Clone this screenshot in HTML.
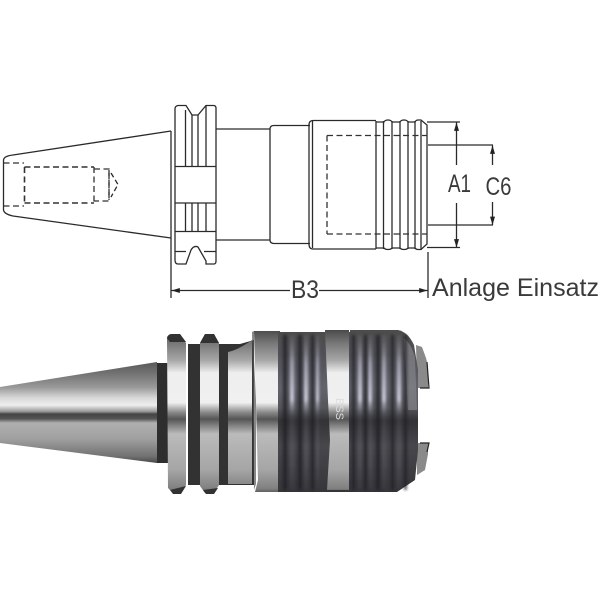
<!DOCTYPE html>
<html><head><meta charset="utf-8">
<style>html,body{margin:0;padding:0;background:#fff}svg{display:block}
text{font-family:"Liberation Sans",sans-serif;fill:#3a3a3a}</style></head>
<body>
<svg width="600" height="600" viewBox="0 0 600 600" xmlns="http://www.w3.org/2000/svg">
<defs>
<filter id="b" x="-5%" y="-5%" width="110%" height="110%"><feGaussianBlur stdDeviation="0.35"/></filter>
<filter id="b2" x="-20%" y="-5%" width="140%" height="110%"><feGaussianBlur stdDeviation="1.4"/></filter>
<linearGradient id="taper" gradientUnits="userSpaceOnUse" x1="0" y1="360" x2="0" y2="465">
<stop offset="0" stop-color="#555"/><stop offset=".12" stop-color="#707070"/><stop offset=".26" stop-color="#999"/><stop offset=".36" stop-color="#d8d8d8"/><stop offset=".43" stop-color="#eee"/><stop offset=".49" stop-color="#999"/><stop offset=".515" stop-color="#444"/><stop offset=".56" stop-color="#555"/><stop offset=".6" stop-color="#b0b0b0"/><stop offset=".75" stop-color="#a0a0a0"/><stop offset=".92" stop-color="#707070"/><stop offset="1" stop-color="#3c3c3c"/>
</linearGradient>
<linearGradient id="metal" gradientUnits="userSpaceOnUse" x1="0" y1="330" x2="0" y2="495">
<stop offset="0" stop-color="#4a4a4a"/><stop offset=".08" stop-color="#777"/><stop offset=".18" stop-color="#a5a5a5"/><stop offset=".26" stop-color="#eee"/><stop offset=".44" stop-color="#f0f0f0"/><stop offset=".5" stop-color="#888"/><stop offset=".54" stop-color="#555"/><stop offset=".6" stop-color="#999"/><stop offset=".63" stop-color="#bbb"/><stop offset=".85" stop-color="#a5a5a5"/><stop offset=".96" stop-color="#808080"/><stop offset="1" stop-color="#444"/>
</linearGradient>
<linearGradient id="thread" gradientUnits="userSpaceOnUse" x1="0" y1="330" x2="0" y2="495">
<stop offset="0" stop-color="#4c4c4c"/><stop offset=".15" stop-color="#505056"/><stop offset=".35" stop-color="#62646c"/><stop offset=".47" stop-color="#55565a"/><stop offset=".55" stop-color="#333336"/><stop offset=".7" stop-color="#47474c"/><stop offset="1" stop-color="#343438"/>
</linearGradient>
<linearGradient id="hl" gradientUnits="userSpaceOnUse" x1="0" y1="330" x2="0" y2="495">
<stop offset="0" stop-color="#888" stop-opacity="0"/><stop offset=".2" stop-color="#bbc" stop-opacity=".7"/><stop offset=".42" stop-color="#dde" stop-opacity=".85"/><stop offset=".52" stop-color="#889" stop-opacity=".1"/><stop offset=".8" stop-color="#778" stop-opacity=".22"/><stop offset="1" stop-color="#666" stop-opacity="0"/>
</linearGradient>
<marker id="a" viewBox="0 0 10 6" refX="10" refY="3" markerWidth="9" markerHeight="5" markerUnits="userSpaceOnUse" orient="auto-start-reverse"><path d="M0 0L10 3L0 6Z" fill="#222"/></marker>
</defs>

<!-- drawing -->
<g filter="url(#b)" fill="none" stroke="#2c2c2c" stroke-width="1.3">
<path d="M171 131L13 155Q4 156 3.500 160V210Q4 214 13 216L171 238"/>
<path d="M171 131V298"/>
<path d="M214 105.500H206L198 115H192L186 105.500H178Q175 106 175 109V260Q175 264 178 264H186L191 250Q194 245 198 247L206 261V264H214Q216 264 216 261V108Q216 106 214 105.500Z"/>
<path d="M185.500 110V166M192 115V166M198 115V166M206 106V166M175 166.500H216M175 203H216M185.500 203V231M192 203V231M198 203V231M206 203V231M175 231.500H216M175 251.500H186M204 251.500H216"/>
<path d="M216 129H270M216 240H270M270 240V129Q270 125.500 274 125.500H310M270 240Q270 243.500 274 243.500H310"/>
<path d="M376 120.500H313Q309 120.500 309 125V244Q309 249 313 249H376M312.500 121V248"/>
<path d="M376 121V249M383.500 121V249M392 121V249M400 121V249M408 121V249M415 121V249M421 121V249"/>
<path d="M376 122H384Q385 120 388 120Q391 120 392 122H400Q401 120 404 120Q407 120 408 122H415Q416 120 418 120H421L427 125V244L421 249.500H418Q416 249.500 415 248H408Q407 249.500 404 249.500Q401 249.500 400 248H392Q391 249.500 388 249.500Q385 249.500 384 248H376"/>
<g stroke-dasharray="6 3.500" stroke="#333">
<path d="M3.500 163H24M3.500 206H24"/>
<path d="M24.500 167V203M24.500 167H94M24.500 203H94" stroke-width="1.600"/>
<path d="M94 167V203M94 169H109V201H94"/>
<path d="M109 170V200"/>
<path d="M327 135.500H427M327 234H427M327 135.500V234"/>
</g>
<path d="M111 173L118 184.500L111 197" stroke-dasharray="5 3"/>
<path d="M427 122H460M428 145H493M428 225H493M428 252V298M427 247.500H460"/>
<path d="M456.500 165V122.500" marker-end="url(#a)"/>
<path d="M456.500 203V247.500" marker-end="url(#a)"/>
<path d="M492.500 165V145.500" marker-end="url(#a)"/>
<path d="M492.500 202V225" marker-end="url(#a)"/>
<path d="M290 290.500H171.500" marker-end="url(#a)"/>
<path d="M319 290.500H427.500" marker-end="url(#a)"/>
</g>
<path d="M0 185H437" stroke="#666" stroke-width="1.100" fill="none" filter="url(#b)"/>
<rect x="445" y="172" width="30" height="27" fill="#fff"/>
<rect x="483" y="172" width="32" height="27" fill="#fff"/>
<g font-size="25">
<text x="448" y="192" textLength="23" lengthAdjust="spacingAndGlyphs">A1</text>
<text x="485.500" y="195" textLength="26" lengthAdjust="spacingAndGlyphs">C6</text>
<text x="291" y="298" textLength="28" lengthAdjust="spacingAndGlyphs">B3</text>
<text x="432" y="296" textLength="167" lengthAdjust="spacingAndGlyphs">Anlage Einsatz</text>
</g>

<!-- photo -->
<g filter="url(#b)">
<path d="M0 387L157 362V463L0 443Z" fill="url(#taper)"/>
<rect x="157" y="363" width="12" height="100" fill="#2e2e2e"/>
<path d="M188 344H240L254 340V485H188Z" fill="#303032"/>
<path d="M167 338Q168 334 172 334H180L186 343V485L181 493H173L168 488Z" fill="url(#metal)"/>
<path d="M167 338Q168 334 172 334H180L186 342H170Z" fill="#333"/>
<path d="M170 490L173 494H181L186 486Z" fill="#333"/>
<path d="M200 343L205 334H214L219 343V485L214 493H205L200 486Z" fill="url(#metal)"/>
<path d="M200 343L205 334H214L219 343Z" fill="#333"/>
<path d="M203 490L206 494H214L218 488Z" fill="#333"/>
<path d="M228 352Q238 350 252 340V484H228Z" fill="url(#metal)"/>
<path d="M254 331H280V492H255L258 480Z" fill="url(#metal)"/>
<path d="M252 332L254 331V360L256 400V484L254 490Z" fill="#555" opacity=".7"/>
<path d="M416 345L422 347L426 358L428 366V388H417ZM417 443L428 443V454L425 470L417 475Z" fill="#8a8a8a"/>
<path d="M427 362L429 388H420" fill="none" stroke="#222" stroke-width="1.200"/>
<path d="M420 443H429L427 452" fill="none" stroke="#222" stroke-width="1.200"/>
<path d="M278 332H350V492H278Z" fill="url(#thread)"/>
<path d="M350 330H398Q408 332 414 345L418 370V450L415 480L397 492H350Z" fill="url(#thread)"/>
<path d="M325 330H349V490H327L330 440L328 400Z" fill="url(#metal)"/>
<path d="M404 338Q412 345 415 358L417 410H408Z" fill="#85858a" opacity=".7"/>
</g>
<g filter="url(#b2)" fill="url(#hl)">
<rect x="290" y="335" width="4" height="155"/><rect x="304" y="335" width="4" height="155"/><rect x="316" y="335" width="3" height="155"/>
<rect x="358" y="335" width="4" height="155"/><rect x="368" y="335" width="4" height="155"/><rect x="382" y="335" width="4" height="155"/><rect x="397" y="335" width="4" height="155"/>
</g>
<g fill="#1e1e20" filter="url(#b2)" opacity=".7">
<rect x="283" y="335" width="4" height="155"/><rect x="298" y="335" width="4" height="155"/><rect x="311" y="335" width="3" height="155"/>
<rect x="352" y="335" width="3" height="155"/><rect x="364" y="335" width="3" height="155"/><rect x="376" y="335" width="4" height="155"/><rect x="391" y="335" width="3" height="155"/><rect x="404" y="335" width="3" height="155"/>
</g>
<text transform="translate(336 398) rotate(90)" font-size="11" style="fill:#ddd">BSS</text>
</svg>
</body></html>
